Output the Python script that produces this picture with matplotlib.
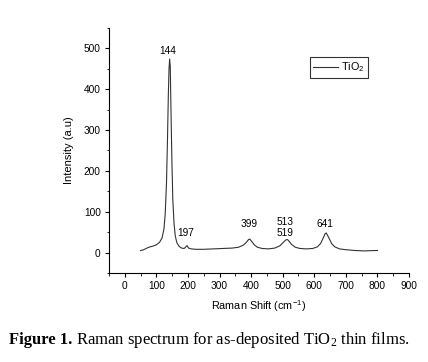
import matplotlib
matplotlib.use('Agg')
import matplotlib.pyplot as plt
from matplotlib.ticker import MultipleLocator

# Raman spectrum
shift = [50, 60, 70, 80, 90, 100, 110, 118, 124, 128, 132, 135, 138, 140, 142,
         144, 146, 149, 152, 156, 160, 165, 172, 180, 188, 193, 197, 202, 210,
         225, 250, 280, 310, 340, 360, 375, 385, 392, 396, 402, 410, 420, 435,
         455, 475, 492, 502, 510, 515, 520, 528, 540, 555, 575, 595, 610, 620,
         628, 634, 638, 645, 655, 665, 680, 700, 730, 760, 790, 800]
intensity = [5, 7, 11, 14, 16, 19, 25, 36, 58, 95, 170, 270, 390, 450, 474,
             455, 360, 230, 130, 70, 40, 24, 15, 11, 10, 14, 17, 11, 9,
             8, 8, 9, 10, 11, 13, 18, 25, 32, 33, 27, 19, 13, 10,
             9, 11, 17, 25, 31, 32, 28, 20, 13, 10, 9, 10, 14, 22,
             35, 46, 48, 38, 22, 14, 9, 7, 5, 4, 5, 5]

peak_labels = ['144', '197', '399', '513', '519', '641']
peak_x = [135, 192, 394, 508, 508, 633]
peak_y = [493, 48, 69, 74, 47, 69]

plt.rcParams['font.family'] = ['Liberation Sans', 'DejaVu Sans']

fig = plt.figure(figsize=(4.28, 3.62), dpi=100)
ax = fig.add_axes([0.2547, 0.2459, 0.7009, 0.6768])

ax.plot(shift, intensity, color='#333333', lw=0.8, label=r'TiO$\mathregular{_2}$')

for lab, x, y in zip(peak_labels, peak_x, peak_y):
    ax.text(x, y, lab, ha='center', va='center', fontsize=7.3)

ax.set_xlim(-50, 900)
ax.set_ylim(-50, 550)
ax.xaxis.set_major_locator(MultipleLocator(100))
ax.xaxis.set_minor_locator(MultipleLocator(50))
ax.yaxis.set_major_locator(MultipleLocator(100))
ax.yaxis.set_minor_locator(MultipleLocator(50))
ax.tick_params(which='major', direction='out', length=3, width=0.8,
               labelsize=7.3, pad=3)
ax.tick_params(which='minor', direction='out', length=1.8, width=0.6)
ax.spines['top'].set_visible(False)
ax.spines['right'].set_visible(False)
ax.spines['left'].set_linewidth(0.8)
ax.spines['bottom'].set_linewidth(0.8)

ax.set_xlabel(r'Raman Shift (cm$\mathregular{^{-1}}$)', fontsize=7.8, labelpad=5)
ax.set_ylabel('Intensity (a.u)', fontsize=8, labelpad=7)

leg = ax.legend(loc='upper left', bbox_to_anchor=(0.67, 0.88), fontsize=7.8,
                frameon=True, fancybox=False, handlelength=2.3,
                borderpad=0.3, handletextpad=0.3, borderaxespad=0)
leg.get_frame().set_edgecolor('black')
leg.get_frame().set_linewidth(0.8)

# caption: bold part, then the rest placed right after it
cap1 = fig.text(0.02, 0.06, 'Figure 1.', fontsize=12, fontweight='bold',
                family='Liberation Serif', va='center', ha='left')
fig.canvas.draw()
bb = cap1.get_window_extent()
x1 = (bb.x1 + 4) / fig.bbox.width
fig.text(x1, 0.06, r'Raman spectrum for as-deposited TiO$\mathregular{_2}$ thin films.',
         fontsize=12, family='Liberation Serif', va='center', ha='left')

fig.savefig('out.png', dpi=100)
